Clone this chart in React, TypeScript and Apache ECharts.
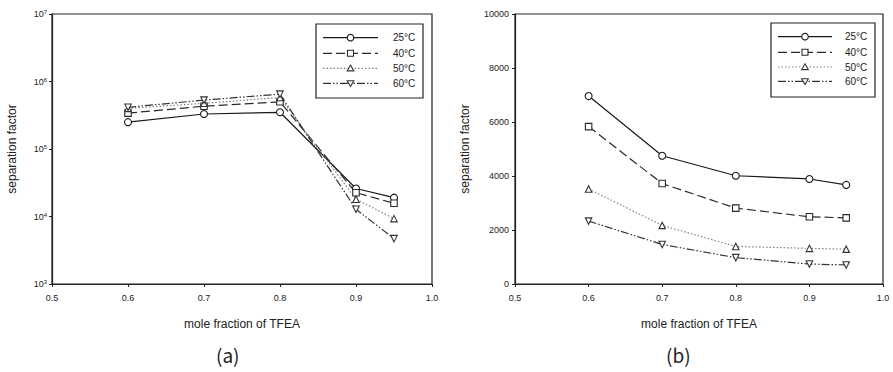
import React, { useEffect, useRef } from "react";
import * as echarts from "echarts";

const xValues = [0.6, 0.7, 0.8, 0.9, 0.95];
const seriesNames = ["25°C", "40°C", "50°C", "60°C"];

// (a) log scale
const a25 = [250000, 330000, 350000, 26000, 19000];
const a40 = [340000, 430000, 500000, 22500, 15700];
const a50 = [400000, 475000, 580000, 18000, 9300];
const a60 = [415000, 530000, 650000, 12800, 4700];

// (b) linear scale
const b25 = [6960, 4750, 4010, 3890, 3670];
const b40 = [5830, 3720, 2810, 2490, 2450];
const b50 = [3520, 2170, 1390, 1320, 1290];
const b60 = [2330, 1465, 975, 740, 705];

const xTitle = "mole fraction of TFEA";
const yTitle = "separation factor";
const panelLabels = ["(a)", "(b)"];

const styles = [
  { color: "#1a1a1a", dash: null as any, symbol: "circle", rotate: 0 },
  { color: "#2a2a2a", dash: [9, 4], symbol: "rect", rotate: 0 },
  { color: "#808080", dash: [1.5, 2], symbol: "triangle", rotate: 0 },
  { color: "#333333", dash: [8, 2, 1.5, 2, 1.5, 2], symbol: "triangle", rotate: 180 },
];

const FONT = "Liberation Sans, Arial, sans-serif";

function markerEl(i: number, cx: number, cy: number) {
  const stroke = i === 2 ? "#333" : styles[i].color;
  const st = { fill: "#fff", stroke, lineWidth: 1.1 };
  if (i === 0) return { type: "circle", shape: { cx, cy, r: 3.3 }, style: st, z: 10 };
  if (i === 1) return { type: "rect", shape: { x: cx - 3, y: cy - 3, width: 6, height: 6 }, style: st, z: 10 };
  if (i === 2)
    return { type: "polygon", shape: { points: [[cx, cy - 3.2], [cx + 3.3, cy + 2.6], [cx - 3.3, cy + 2.6]] }, style: st, z: 10 };
  return { type: "polygon", shape: { points: [[cx, cy + 3.2], [cx + 3.3, cy - 2.6], [cx - 3.3, cy - 2.6]] }, style: st, z: 10 };
}

function legendEls(box: number[], rows: number[], lx1: number, lx2: number, tx: number) {
  const els: any[] = [
    { type: "rect", shape: { x: box[0], y: box[1], width: box[2], height: box[3] }, style: { fill: "#fff", stroke: "#222", lineWidth: 1.2 }, z: 8 },
  ];
  rows.forEach((y, i) => {
    els.push({
      type: "line",
      shape: { x1: lx1, y1: y, x2: lx2, y2: y },
      style: { stroke: styles[i].color, lineWidth: 1.2, lineDash: styles[i].dash || undefined },
      z: 9,
    });
    els.push(markerEl(i, (lx1 + lx2) / 2, y));
    els.push({
      type: "text",
      x: tx,
      y: y,
      style: { text: seriesNames[i], font: `10px ${FONT}`, fill: "#222", verticalAlign: "middle", align: "left" },
      z: 10,
    });
  });
  return els;
}

export default function App() {
  const ref = useRef<HTMLDivElement>(null);
  useEffect(() => {
    if (!ref.current) return;
    const chart = echarts.init(ref.current, null, { renderer: "svg" });
    const dataA = [a25, a40, a50, a60];
    const dataB = [b25, b40, b50, b60];

    const mkSeries = (arr: number[][], idx: number) =>
      arr.map((vals, i) => ({
        name: seriesNames[i],
        type: "line",
        xAxisIndex: idx,
        yAxisIndex: idx,
        data: xValues.map((x, j) => [x, vals[j]]),
        symbol: styles[i].symbol,
        symbolSize: i === 0 ? 7 : 6.5,
        symbolRotate: styles[i].rotate,
        showSymbol: true,
        lineStyle: { color: styles[i].color, width: 1.2, type: styles[i].dash || "solid" },
        itemStyle: { color: "#ffffff", borderColor: i === 2 ? "#333" : styles[i].color, borderWidth: 1.1 },
        emphasis: { disabled: true },
        z: 3,
      }));

    const xAxisBase = {
      type: "value",
      min: 0.5,
      max: 1.0,
      interval: 0.1,
      name: xTitle,
      nameLocation: "middle",
      nameGap: 34,
      nameTextStyle: { fontFamily: FONT, fontSize: 12, color: "#222" },
      axisLine: { show: true, lineStyle: { color: "#222", width: 1.2 } },
      axisTick: { show: true, length: 3, lineStyle: { color: "#222" } },
      axisLabel: { fontFamily: FONT, fontSize: 9, color: "#222", margin: 9, formatter: (v: number) => v.toFixed(1) },
      splitLine: { show: false },
    };

    const option: any = {
      animation: false,
      backgroundColor: "#fff",
      grid: [
        { left: 52, top: 14, width: 380, height: 270, show: true, borderColor: "#222", borderWidth: 1.2, backgroundColor: "transparent" },
        { left: 515, top: 14, width: 368, height: 270, show: true, borderColor: "#222", borderWidth: 1.2, backgroundColor: "transparent" },
      ],
      xAxis: [
        { ...xAxisBase, gridIndex: 0 },
        { ...xAxisBase, gridIndex: 1 },
      ],
      yAxis: [
        {
          type: "log",
          gridIndex: 0,
          logBase: 10,
          min: 1000,
          max: 10000000,
          name: yTitle,
          nameLocation: "middle",
          nameGap: 34,
          nameTextStyle: { fontFamily: FONT, fontSize: 12, color: "#222" },
          axisLine: { show: true, lineStyle: { color: "#222", width: 1.2 } },
          axisTick: { show: true, length: 3, lineStyle: { color: "#222" } },
          minorTick: { show: false },
          splitLine: { show: false },
          axisLabel: {
            margin: 5,
            formatter: (v: number) => `{b|10}{s|${Math.round(Math.log10(v))}}`,
            rich: {
              b: { fontFamily: FONT, fontSize: 9, color: "#222" },
              s: { fontFamily: FONT, fontSize: 6, color: "#222", verticalAlign: "top", padding: [0, 0, 4, 0] },
            },
          },
        },
        {
          type: "value",
          gridIndex: 1,
          min: 0,
          max: 10000,
          interval: 2000,
          name: yTitle,
          nameLocation: "middle",
          nameGap: 44,
          nameTextStyle: { fontFamily: FONT, fontSize: 12, color: "#222" },
          axisLine: { show: true, lineStyle: { color: "#222", width: 1.2 } },
          axisTick: { show: true, length: 3, lineStyle: { color: "#222" } },
          splitLine: { show: false },
          axisLabel: { fontFamily: FONT, fontSize: 9, color: "#222", margin: 6, formatter: (v: number) => String(v) },
        },
      ],
      series: [...mkSeries(dataA, 0), ...mkSeries(dataB, 1)],
      graphic: [
        ...legendEls([316, 24, 107, 74], [37.7, 53.3, 68.3, 83.3], 323, 378, 393),
        ...legendEls([771, 23, 104, 74], [36.7, 52.3, 67, 81.3], 778, 832, 845),
        { type: "text", left: 216, top: 345, style: { text: panelLabels[0], font: "400 19px 'Noto Sans CJK KR', sans-serif", fill: "#222" } },
        { type: "text", left: 666, top: 345, style: { text: panelLabels[1], font: "400 19px 'Noto Sans CJK KR', sans-serif", fill: "#222" } },
      ],
    };
    chart.setOption(option);
    return () => chart.dispose();
  }, []);
  return <div ref={ref} style={{ position: "fixed", left: 0, top: 0, width: 893, height: 372, background: "#fff" }} />;
}
